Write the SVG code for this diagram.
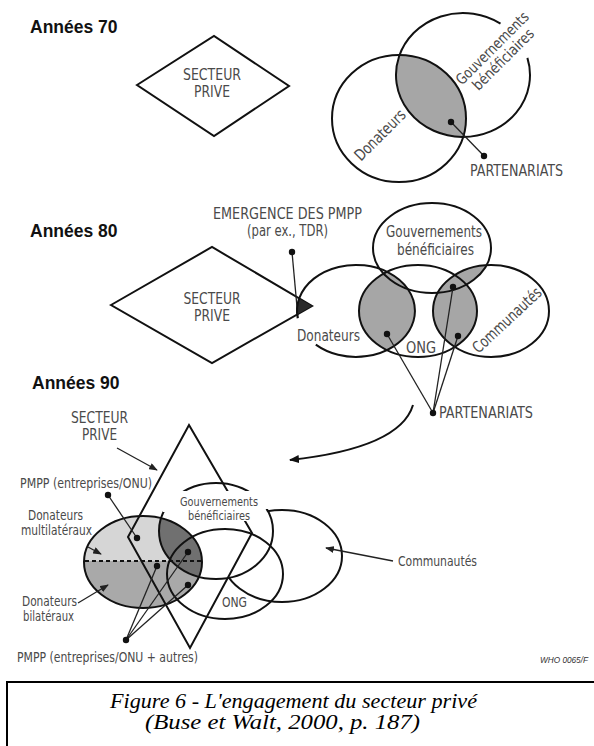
<svg xmlns="http://www.w3.org/2000/svg" width="594" height="746" viewBox="0 0 594 746">
<defs>
<style>
.t{font-family:"Liberation Sans Narrow","DejaVu Sans Condensed","Liberation Sans",sans-serif;fill:#4a4a4a;font-size:16px;}
.m{font-size:15px;}
.b{font-size:14px;}
.g{font-size:13px;}
.h{font-family:"Liberation Sans",sans-serif;font-weight:bold;font-size:17.5px;fill:#111;}
.s{fill:none;stroke:#111;stroke-width:2;}
.p{fill:none;stroke:#222;stroke-width:1.3;}
.d{fill:#111;}
.cap{font-family:"Liberation Serif",serif;font-style:italic;font-size:20px;fill:#000;}
.w{font-family:"Liberation Sans",sans-serif;font-style:italic;font-size:9.5px;fill:#333;}
</style>
<marker id="ah" viewBox="0 0 10 8" refX="9" refY="4" markerWidth="10" markerHeight="8" markerUnits="userSpaceOnUse" orient="auto"><path d="M0,0L10,4L0,8z" fill="#111"/></marker>
<marker id="ahs" viewBox="0 0 10 8" refX="9" refY="4" markerWidth="9" markerHeight="7" markerUnits="userSpaceOnUse" orient="auto"><path d="M0,0L10,4L0,8z" fill="#222"/></marker>
<clipPath id="cD70"><ellipse cx="399" cy="118.5" rx="67" ry="63.5"/></clipPath>
<clipPath id="cD80"><ellipse cx="356" cy="311" rx="59" ry="46"/></clipPath>
<clipPath id="cC80"><ellipse cx="491" cy="311" rx="58" ry="46"/></clipPath>
<clipPath id="cD90"><ellipse cx="143" cy="562" rx="59" ry="46"/></clipPath>
<clipPath id="cUp"><rect x="0" y="0" width="594" height="561"/></clipPath>
<mask id="mG90" maskUnits="userSpaceOnUse" x="0" y="0" width="594" height="746">
<rect x="0" y="0" width="594" height="746" fill="#fff"/>
<ellipse cx="216" cy="531" rx="56" ry="47" fill="#000"/>
</mask>
</defs>

<!-- Années 70 -->
<text class="h" x="30" y="33">Années 70</text>
<g id="secteur70">
<polygon class="s" points="137,85 214,36 289,86 214,136"/>
<text class="t m" text-anchor="middle" x="212" y="80" textLength="58" lengthAdjust="spacingAndGlyphs">SECTEUR</text>
<text class="t m" text-anchor="middle" x="212" y="97" textLength="36" lengthAdjust="spacingAndGlyphs">PRIVE</text>
</g>
<g id="venn70">
<ellipse cx="463" cy="75" rx="67" ry="62" fill="#a6a6a6" clip-path="url(#cD70)"/>
<ellipse class="s" cx="399" cy="118.5" rx="67" ry="63.5"/>
<path class="s" d="M527.4,57.9 A67,62 0 1 1 500.5,23.6"/>
<text class="t" text-anchor="middle" x="380" y="140.5" textLength="65" lengthAdjust="spacingAndGlyphs" transform="rotate(-45 380 135)">Donateurs</text>
<text class="t m" text-anchor="middle" x="492" y="53.5" textLength="96" lengthAdjust="spacingAndGlyphs" transform="rotate(-45 492 48)">Gouvernements</text>
<text class="t m" text-anchor="middle" x="503" y="64.5" textLength="80" lengthAdjust="spacingAndGlyphs" transform="rotate(-45 503 59)">bénéficiaires</text>
</g>
<g id="part70">
<line class="p" x1="451" y1="122" x2="484" y2="156"/>
<circle class="d" cx="451" cy="122" r="3.2"/>
<circle class="d" cx="484" cy="156" r="3.2"/>
<text class="t" x="470" y="176" textLength="93" lengthAdjust="spacingAndGlyphs">PARTENARIATS</text>
</g>

<!-- Années 80 -->
<text class="h" x="30" y="237">Années 80</text>
<g id="secteur80">
<polygon class="s" points="111,305 212,247 312,306 212,363"/>
<polygon points="111,305 212,247 312,306 212,363" fill="#2a2a2a" clip-path="url(#cD80)"/>
<text class="t m" text-anchor="middle" x="212" y="304" textLength="57" lengthAdjust="spacingAndGlyphs">SECTEUR</text>
<text class="t m" text-anchor="middle" x="212" y="321" textLength="36" lengthAdjust="spacingAndGlyphs">PRIVE</text>
</g>
<g id="emergence80">
<line class="p" x1="292" y1="252" x2="298" y2="318"/>
<circle class="d" cx="292" cy="252" r="3.2"/>
<text class="t m" text-anchor="middle" x="287.5" y="219" textLength="149" lengthAdjust="spacingAndGlyphs">EMERGENCE DES PMPP</text>
<text class="t m" text-anchor="middle" x="287.5" y="236" textLength="81" lengthAdjust="spacingAndGlyphs">(par ex., TDR)</text>
</g>
<g id="venn80">
<g clip-path="url(#cD80)"><ellipse cx="418" cy="311" rx="59" ry="46" fill="#a6a6a6"/></g>
<g clip-path="url(#cC80)"><ellipse cx="418" cy="311" rx="59" ry="46" fill="#a6a6a6"/><ellipse cx="432" cy="248" rx="59" ry="45" fill="#a6a6a6"/></g>
<path class="s" d="M297.7,318.2 A59,46 0 1 1 315.8,344.6"/>
<ellipse class="s" cx="418" cy="311" rx="59" ry="46"/>
<ellipse class="s" cx="491" cy="311" rx="58" ry="46"/>
<ellipse class="s" cx="432" cy="248" rx="59" ry="45"/>
<text class="t m" text-anchor="middle" x="434" y="237" textLength="96" lengthAdjust="spacingAndGlyphs">Gouvernements</text>
<text class="t m" text-anchor="middle" x="435.5" y="255" textLength="77" lengthAdjust="spacingAndGlyphs">bénéficiaires</text>
<text class="t" text-anchor="middle" x="328.5" y="341" textLength="63" lengthAdjust="spacingAndGlyphs">Donateurs</text>
<text class="t" text-anchor="middle" x="421" y="353" textLength="30" lengthAdjust="spacingAndGlyphs">ONG</text>
<text class="t" text-anchor="middle" x="507" y="325.5" textLength="88" lengthAdjust="spacingAndGlyphs" transform="rotate(-43 507 320)">Communautés</text>
</g>
<g id="part80">
<line class="p" x1="387" y1="334" x2="433" y2="413"/>
<line class="p" x1="453" y1="287" x2="433" y2="413"/>
<line class="p" x1="458" y1="336" x2="433" y2="413"/>
<circle class="d" cx="387" cy="334" r="3.2"/>
<circle class="d" cx="453" cy="287" r="3.2"/>
<circle class="d" cx="458" cy="336" r="3.2"/>
<circle class="d" cx="433" cy="413" r="3.2"/>
<text class="t" x="439" y="418" textLength="94" lengthAdjust="spacingAndGlyphs">PARTENARIATS</text>
</g>
<g id="connectors">
<path class="s" d="M413,405 Q400,448 290,460" marker-end="url(#ah)"/>
</g>

<!-- Années 90 -->
<text class="h" x="32" y="389">Années 90</text>
<g id="donateurs90">
<ellipse cx="143" cy="562" rx="59" ry="46" fill="#a9a9a9"/>
<ellipse cx="143" cy="562" rx="59" ry="46" fill="#d6d6d6" clip-path="url(#cUp)"/>
<g clip-path="url(#cD90)"><ellipse cx="216" cy="531" rx="57" ry="48" fill="#707070"/></g>
<ellipse class="s" cx="143" cy="562" rx="59" ry="46"/>
<line x1="85" y1="561" x2="202" y2="561" stroke="#111" stroke-width="2" stroke-dasharray="4,3"/>
</g>
<g id="gouvernements90">
<ellipse class="s" cx="216" cy="531" rx="57" ry="48"/>
</g>
<g id="ong90">
<ellipse class="s" cx="225" cy="574" rx="58" ry="45"/>
</g>
<g id="communautes90">
<ellipse class="s" cx="282" cy="556" rx="60" ry="46" mask="url(#mG90)"/>
</g>
<g id="secteur90">
<polygon class="s" points="189,425 252,533 190,648 128,537"/>
</g>
<g id="labels90">
<path d="M163,491 H271 V509 H259 V521 H180 V512 H163 Z" fill="#fff"/>
<text class="t g" text-anchor="middle" x="219" y="506" textLength="78" lengthAdjust="spacingAndGlyphs">Gouvernements</text>
<text class="t g" text-anchor="middle" x="219" y="520" textLength="62" lengthAdjust="spacingAndGlyphs">bénéficiaires</text>
<text class="t m" text-anchor="middle" x="99.5" y="423" textLength="57" lengthAdjust="spacingAndGlyphs">SECTEUR</text>
<text class="t m" text-anchor="middle" x="99.5" y="440" textLength="35" lengthAdjust="spacingAndGlyphs">PRIVE</text>
<text class="t b" x="20" y="488" textLength="132" lengthAdjust="spacingAndGlyphs">PMPP (entreprises/ONU)</text>
<text class="t b" text-anchor="middle" x="55.5" y="520" textLength="55" lengthAdjust="spacingAndGlyphs">Donateurs</text>
<text class="t b" text-anchor="middle" x="56.5" y="535" textLength="71" lengthAdjust="spacingAndGlyphs">multilatéraux</text>
<text class="t b" text-anchor="middle" x="49.5" y="606" textLength="55" lengthAdjust="spacingAndGlyphs">Donateurs</text>
<text class="t b" text-anchor="middle" x="48.5" y="621" textLength="51" lengthAdjust="spacingAndGlyphs">bilatéraux</text>
<text class="t b" text-anchor="middle" x="234.5" y="607" textLength="25" lengthAdjust="spacingAndGlyphs">ONG</text>
<text class="t b" x="17" y="662" textLength="181" lengthAdjust="spacingAndGlyphs">PMPP (entreprises/ONU + autres)</text>
<text class="t b" x="398" y="566" textLength="79" lengthAdjust="spacingAndGlyphs">Communautés</text>
</g>
<g id="pointers90">
<line class="p" x1="117" y1="448" x2="157" y2="470" marker-end="url(#ahs)"/>
<line class="p" x1="88" y1="547" x2="101" y2="554" marker-end="url(#ahs)"/>
<line class="p" x1="78" y1="603" x2="108" y2="585" marker-end="url(#ahs)"/>
<line class="p" x1="393" y1="561" x2="326" y2="548" marker-end="url(#ahs)"/>
<line class="p" x1="108" y1="495" x2="137" y2="538"/>
<line class="p" x1="126" y1="640" x2="157" y2="566"/>
<line class="p" x1="126" y1="640" x2="188" y2="552"/>
<line class="p" x1="126" y1="640" x2="188" y2="585"/>
<circle class="d" cx="108" cy="495" r="3.2"/>
<circle class="d" cx="137" cy="538" r="3.2"/>
<circle class="d" cx="157" cy="566" r="3.2"/>
<circle class="d" cx="188" cy="552" r="3.2"/>
<circle class="d" cx="188" cy="585" r="3.2"/>
<circle class="d" cx="126" cy="640" r="3.2"/>
</g>
<text class="w" x="540" y="663" textLength="48" lengthAdjust="spacingAndGlyphs">WHO 0065/F</text>

<g id="caption">
<rect x="7" y="682" width="600" height="80" fill="none" stroke="#000" stroke-width="2"/>
<text class="cap" text-anchor="middle" x="293.5" y="708" textLength="367" lengthAdjust="spacingAndGlyphs">Figure 6 - L'engagement du secteur privé</text>
<text class="cap" text-anchor="middle" x="282.5" y="729" textLength="275" lengthAdjust="spacingAndGlyphs">(Buse et Walt, 2000, p. 187)</text>
</g>
</svg>
